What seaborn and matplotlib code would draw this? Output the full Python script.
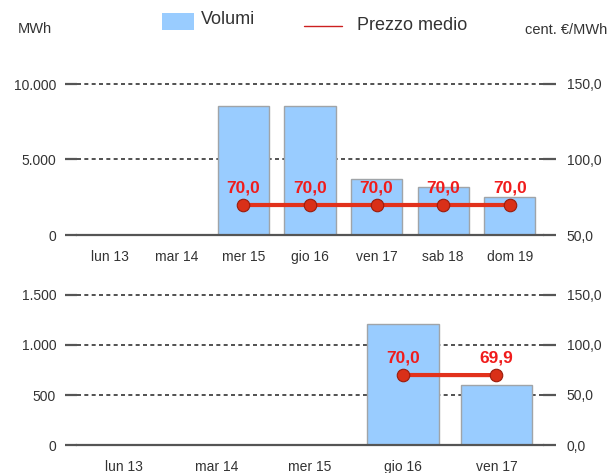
import matplotlib
matplotlib.use("Agg")
import matplotlib.pyplot as plt
import seaborn as sns
import numpy as np
import pandas as pd
from matplotlib.patches import Rectangle
from matplotlib.lines import Line2D

# ---------------- data ----------------
days_top = ["lun 13", "mar 14", "mer 15", "gio 16", "ven 17", "sab 18", "dom 19"]
vol_top = [0, 0, 8550, 8550, 3710, 3180, 2510]
price_top = [np.nan, np.nan, 70.0, 70.0, 70.0, 70.0, 70.0]

days_bot = ["lun 13", "mar 14", "mer 15", "gio 16", "ven 17"]
vol_bot = [0, 0, 0, 1210, 605]
price_bot = [np.nan, np.nan, np.nan, 70.0, 69.9]

yticks_top = [0, 5000, 10000]
y2ticks_top = [50, 100, 150]
yticks_bot = [0, 500, 1000, 1500]
y2ticks_bot = [0, 50, 100, 150]

legend_labels = ["Volumi", "Prezzo medio"]
left_unit = "MWh"
right_unit = "cent. €/MWh"

# ---------------- style ----------------
sns.set_style("white")
plt.rcParams["font.family"] = ["Liberation Sans", "DejaVu Sans"]

BAR = "#99ccff"
BAR_EDGE = "#a0a4a8"
LINE = "#e2321c"
LABEL_RED = "#f01c1c"
AX = "#555555"
TXT = "#333333"


def fmt_int(v):
    return f"{v:,.0f}".replace(",", ".")


def fmt_dec(v):
    return f"{v:.1f}".replace(".", ",")


fig = plt.figure(figsize=(6.13, 4.73), dpi=100)
W, H = 613, 473


def panel(rect, days, vols, prices, yt, y2t):
    ax = fig.add_axes(rect)
    df = pd.DataFrame({"day": days, "vol": vols, "price": prices})
    sns.barplot(data=df, x="day", y="vol", order=days, ax=ax, color=BAR,
                saturation=1, width=0.77, edgecolor=BAR_EDGE, linewidth=1,
                zorder=2)
    ax.set_ylim(yt[0], yt[-1])
    ax.set_yticks(yt)
    ax.set_yticklabels([fmt_int(v) for v in yt])
    ax.yaxis.grid(True, linestyle=(0, (2.4, 2.0)), color="#333333", lw=1.2)
    for gl in ax.get_ygridlines():
        gl.set_clip_on(False)
    ax.xaxis.grid(False)
    ax.set_axisbelow(True)
    for s in ["top", "left", "right"]:
        ax.spines[s].set_visible(False)
    ax.spines["bottom"].set_color(AX)
    ax.spines["bottom"].set_linewidth(1.6)
    ax.set_xlabel("")
    ax.set_ylabel("")
    n = len(days)
    ax.set_xticks(np.arange(n + 1) - 0.5, minor=True)
    ax.tick_params(axis="x", which="major", length=0, pad=11,
                   labelsize=10, labelcolor=TXT)
    ax.tick_params(axis="x", which="minor", direction="out", length=5,
                   width=1.6, color=AX)
    ax.tick_params(axis="y", direction="out", length=9, width=1.6,
                   color=AX, pad=6, labelsize=10, labelcolor=TXT)

    ax2 = ax.twinx()
    dfp = df.dropna(subset=["price"])
    sns.pointplot(data=dfp, x="day", y="price", order=days, ax=ax2,
                  color=LINE, markers="o", linestyles="-", errorbar=None,
                  linewidth=3, markersize=9, markeredgecolor="#9a1c0c",
                  markeredgewidth=0.8, markerfacecolor="#d93018")
    ax2.set_ylim(y2t[0], y2t[-1])
    ax2.set_yticks(y2t)
    ax2.set_yticklabels([fmt_dec(v) for v in y2t])
    for s in ["top", "left", "right", "bottom"]:
        ax2.spines[s].set_visible(False)
    ax2.set_ylabel("")
    ax2.set_xlabel("")
    ax2.grid(False)
    ax2.tick_params(axis="y", direction="out", length=9, width=1.6,
                    color=AX, pad=8, labelsize=10, labelcolor=TXT)
    for i, p in enumerate(prices):
        if not np.isnan(p):
            ax2.annotate(fmt_dec(p), (i, p), xytext=(0, 7),
                         textcoords="offset points", ha="center", va="bottom",
                         color=LABEL_RED, fontsize=12.5, fontweight="bold")
    ax.set_xlim(-0.5, n - 0.5)
    ax2.set_xlim(-0.5, n - 0.5)
    return ax, ax2


left = 77 / W
width = (543 - 77) / W
panel([left, 1 - 235 / H, width, (235 - 84) / H],
      days_top, vol_top, price_top, yticks_top, y2ticks_top)
panel([left, 1 - 445 / H, width, (445 - 295) / H],
      days_bot, vol_bot, price_bot, yticks_bot, y2ticks_bot)

# ---------------- legend / units ----------------
fig.add_artist(Rectangle((162 / W, 1 - 30 / H), 32 / W, 17 / H,
                         transform=fig.transFigure, facecolor=BAR,
                         edgecolor="none"))
fig.text(201 / W, 1 - 20 / H, legend_labels[0], fontsize=13, color=TXT,
         va="center", ha="left")
fig.add_artist(Line2D([304 / W, 342 / W], [1 - 26 / H, 1 - 26 / H],
                      transform=fig.transFigure, color="#cc2020", lw=1))
fig.text(357 / W, 1 - 25 / H, legend_labels[1], fontsize=13, color=TXT,
         va="center", ha="left")
fig.text(18 / W, 1 - 29 / H, left_unit, fontsize=10.5, color=TXT,
         va="center", ha="left")
fig.text(607 / W, 1 - 30 / H, right_unit, fontsize=10.5, color=TXT,
         va="center", ha="right")

fig.savefig("out.png", dpi=100)
